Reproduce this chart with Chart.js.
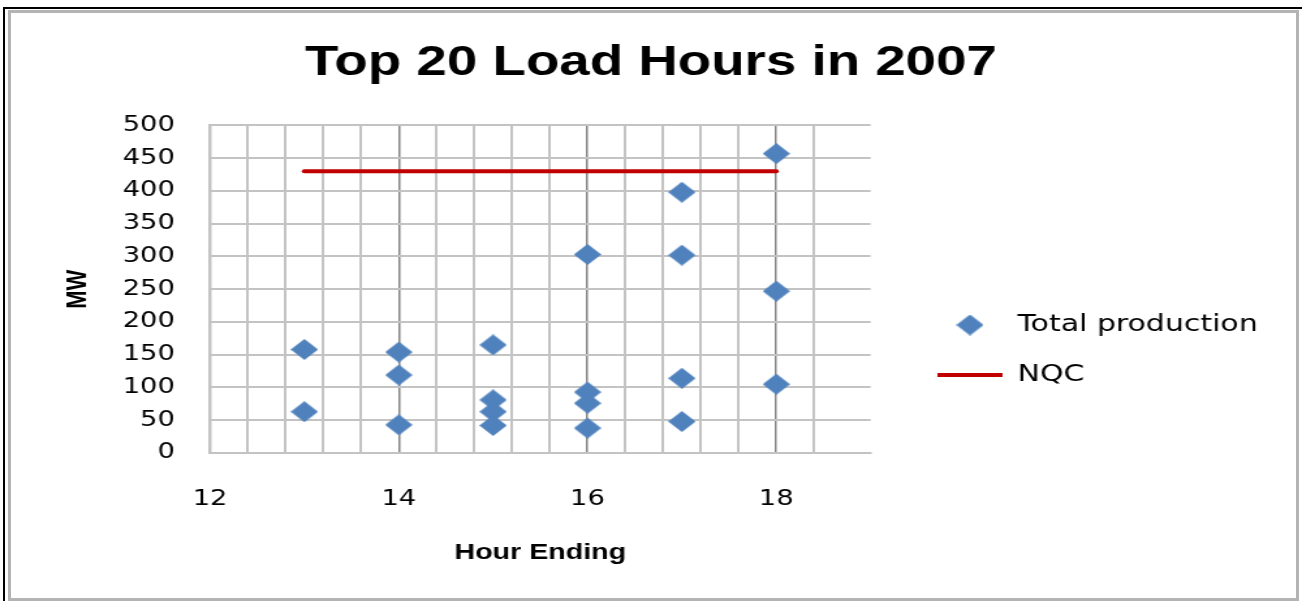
<!DOCTYPE html>
<html>
<head>
<meta charset="utf-8">
<title>Top 20 Load Hours in 2007</title>
<script src="https://cdn.jsdelivr.net/npm/chart.js@4.4.1/dist/chart.umd.min.js"></script>
<style>
    body { margin: 0; background: #fff; }
    .frameBlack {
        position: absolute; left: 3px; top: 7px; width: 1299px; height: 594px;
        border-top: 2px solid #000; border-left: 2px solid #000; box-sizing: border-box;
    }
    .frameGray {
        position: absolute; left: 8px; top: 10px; width: 1291px; height: 591px;
        border: 3px solid #b4b4b4; box-sizing: border-box;
    }
    /* the original picture is stretched sideways, so the chart is drawn narrow and scaled */
    #wrap {
        position: absolute; left: 0; top: 0; width: 1000px; height: 601px;
        transform: scaleX(1.302); transform-origin: 0 0;
    }
</style>
</head>
<body>
<div class="frameBlack"></div>
<div class="frameGray"></div>
<div id="wrap"><canvas id="load-chart"></canvas></div>
<script>
    const hours = [13, 13, 14, 14, 14, 15, 15, 15, 15, 16, 16, 16, 16, 17, 17, 17, 17, 18, 18, 18]
    const production = [158, 63, 154, 119, 43, 165, 81, 63, 42, 303, 93, 76, 38, 398, 302, 114, 48, 457, 247, 105]
    const nqcHours = [13, 18]
    const nqcValues = [430, 430]
    const xTickLabels = [12, 14, 16, 18]

    const lightGrid = "#c3c3c3"
    const darkGrid = "#858585"
    const blue = "#4f81bd"

    // diamond marker as a small image, so the legend does not stretch it
    function makeDiamond(size, color) {
        const c = document.createElement("canvas")
        c.width = size
        c.height = size
        const g = c.getContext("2d")
        const h = size / 2
        g.fillStyle = color
        g.beginPath()
        g.moveTo(h, 0)
        g.lineTo(size, h)
        g.lineTo(h, size)
        g.lineTo(0, h)
        g.closePath()
        g.fill()
        return c
    }

    function isMajor(v) {
        const r = Math.round(v)
        return Math.abs(v - r) < 1e-6 && r % 2 === 0
    }

    const dataObj = {
        datasets: [
            {
                label: "Total production",
                data: hours.map((h, i) => ({ x: h, y: production[i] })),
                pointStyle: makeDiamond(21, blue),
                pointRadius: 10,
                pointHoverRadius: 10,
                backgroundColor: blue,
                borderColor: blue,
                borderWidth: 0,
                showLine: false
            },
            {
                label: "NQC",
                data: nqcHours.map((h, i) => ({ x: h, y: nqcValues[i] })),
                showLine: true,
                pointStyle: "line",
                pointRadius: 0,
                borderColor: "#c00000",
                backgroundColor: "#c00000",
                borderWidth: 4,
                borderCapStyle: "round"
            }
        ]
    };

    new Chart("load-chart", {
        type: "scatter",
        data: dataObj,
        options: {
            responsive: true,
            maintainAspectRatio: false,
            animation: false,
            layout: { padding: { left: 24, right: 24, top: 0, bottom: 0 } },
            scales: {
                x: {
                    type: "linear",
                    min: 12,
                    max: 19,
                    afterFit: (s) => { s.height = 148 },
                    grid: {
                        drawTicks: false,
                        lineWidth: (c) => (isMajor(c.tick.value) ? 1.5 : 2),
                        color: (c) => {
                            const v = c.tick.value
                            if (v > 18.9) return "rgba(0,0,0,0)"
                            return isMajor(v) && v > 12.1 ? darkGrid : lightGrid
                        }
                    },
                    border: { color: lightGrid, width: 2 },
                    ticks: {
                        stepSize: 0.4,
                        autoSkip: false,
                        maxRotation: 0,
                        padding: 34,
                        color: "#000",
                        font: { family: "DejaVu Sans", size: 21 },
                        callback: (v) => {
                            const r = Math.round(v)
                            return Math.abs(v - r) < 1e-6 && xTickLabels.includes(r) ? String(r) : ""
                        }
                    },
                    title: {
                        display: true,
                        text: "Hour Ending",
                        color: "#000",
                        font: { family: "Liberation Sans", size: 22, weight: "bold" },
                        padding: { top: 4, bottom: 35 }
                    }
                },
                y: {
                    min: 0,
                    max: 500,
                    afterFit: (s) => { s.width = 137.3 },
                    grid: { drawTicks: false, color: lightGrid, lineWidth: 2 },
                    border: { color: lightGrid, width: 2 },
                    ticks: {
                        stepSize: 50,
                        padding: 27,
                        color: "#000",
                        font: { family: "DejaVu Sans", size: 21 }
                    },
                    title: {
                        display: true,
                        text: "MW",
                        color: "#000",
                        font: { family: "Liberation Sans", size: 22, weight: "bold" },
                        padding: { top: 23, bottom: 0 }
                    }
                },
                // empty axis, only keeps a gap between the plot and the legend
                gap: {
                    type: "linear",
                    position: "right",
                    afterFit: (s) => { s.width = 24.3 },
                    grid: { display: false },
                    border: { display: false },
                    ticks: { display: false }
                }
            },
            plugins: {
                title: {
                    display: true,
                    text: "Top 20 Load Hours in 2007",
                    color: "#000",
                    font: { family: "Liberation Sans", size: 42, weight: "bold" },
                    padding: { top: 38, bottom: 37 }
                },
                legend: {
                    position: "right",
                    align: "center",
                    maxWidth: 300,
                    title: { display: true, text: " ", font: { size: 10 }, padding: { top: 87, bottom: 0 } },
                    labels: {
                        usePointStyle: true,
                        pointStyleWidth: 50,
                        padding: 27,
                        color: "#000",
                        font: { family: "DejaVu Sans", size: 23 }
                    }
                },
                tooltip: { enabled: false }
            }
        }
    });
</script>
</body>
</html>
